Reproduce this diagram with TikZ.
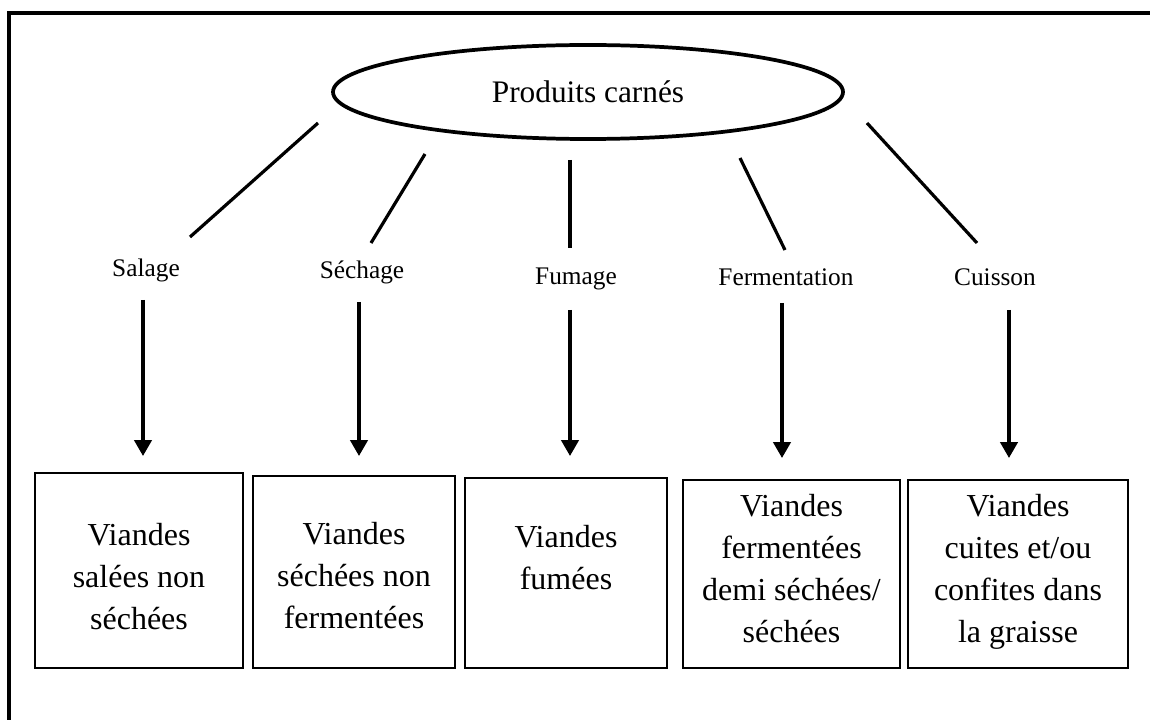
\documentclass[tikz,border=0pt]{standalone}
\usepackage{fontspec}
\setmainfont{Liberation Serif}
\usetikzlibrary{arrows.meta,shapes.geometric}
\begin{document}
\begin{tikzpicture}[x=0.75pt,y=-0.75pt,
  root/.style={draw,ellipse,line width=2.8pt,minimum width=382.5pt,minimum height=70.5pt,inner sep=0pt,font=\fontsize{23.5}{28}\selectfont},
  proc/.style={font=\fontsize{19}{22}\selectfont,inner sep=0pt,anchor=base},
  prodbox/.style={draw,line width=1.8pt,inner sep=0pt},
  prodtext/.style={align=center,font=\fontsize{24}{31.5}\selectfont,inner sep=0pt},
  link/.style={line width=2.4pt},
  flow/.style={line width=2.6pt,-{Triangle[length=12pt,width=13pt]}}]
\useasboundingbox (0,0) rectangle (1150,720);
\fill[white] (0,0) rectangle (1150,720);
\draw[line width=2.8pt] (1150,13) -- (9,13) -- (9,720);

\node[root] (root) at (588,92) {Produits carnés};

\node[proc] (p1) at (146,277) {Salage};
\node[proc] (p2) at (362,279) {Séchage};
\node[proc] (p3) at (576,285) {Fumage};
\node[proc] (p4) at (786,286) {Fermentation};
\node[proc] (p5) at (995,286) {Cuisson};

\node[prodbox,minimum width=156pt,minimum height=146pt] (b1) at (139,570.5) {};
\node[prodbox,minimum width=151.5pt,minimum height=144pt] (b2) at (354,572) {};
\node[prodbox,minimum width=151.5pt,minimum height=142.5pt] (b3) at (566,573) {};
\node[prodbox,minimum width=162.75pt,minimum height=141pt] (b4) at (791.5,574) {};
\node[prodbox,minimum width=165pt,minimum height=141pt] (b5) at (1018,574) {};

\node[prodtext] (t1) at (139,577) {Viandes\\salées non\\séchées};
\node[prodtext] (t2) at (354,576) {Viandes\\séchées non\\fermentées};
\node[prodtext] (t3) at (566,557.5) {Viandes\\fumées};
\node[prodtext] (t4) at (791.5,569) {Viandes\\fermentées\\demi séchées/\\séchées};
\node[prodtext] (t5) at (1018,572) {Viandes\\cuites et/ou\\confites dans\\la graisse};

% link end points
\coordinate (l1a) at (318,123); \coordinate (l1b) at (190,237);
\coordinate (l2a) at (425,154); \coordinate (l2b) at (371,243);
\coordinate (l3a) at (570,160); \coordinate (l3b) at (570,248);
\coordinate (l4a) at (740,158); \coordinate (l4b) at (785,250);
\coordinate (l5a) at (867,123); \coordinate (l5b) at (977,243);
\draw[link] (l1a) -- (l1b);
\draw[link] (l2a) -- (l2b);
\draw[link] (l3a) -- (l3b);
\draw[link] (l4a) -- (l4b);
\draw[link] (l5a) -- (l5b);

% arrows
\coordinate (a1a) at (143,300); \coordinate (a1b) at (143,456);
\coordinate (a2a) at (359,302); \coordinate (a2b) at (359,456);
\coordinate (a3a) at (570,310); \coordinate (a3b) at (570,456);
\coordinate (a4a) at (782,303); \coordinate (a4b) at (782,458);
\coordinate (a5a) at (1009,310); \coordinate (a5b) at (1009,458);
\draw[flow] (a1a) -- (a1b);
\draw[flow] (a2a) -- (a2b);
\draw[flow] (a3a) -- (a3b);
\draw[flow] (a4a) -- (a4b);
\draw[flow] (a5a) -- (a5b);
\end{tikzpicture}
\end{document}
